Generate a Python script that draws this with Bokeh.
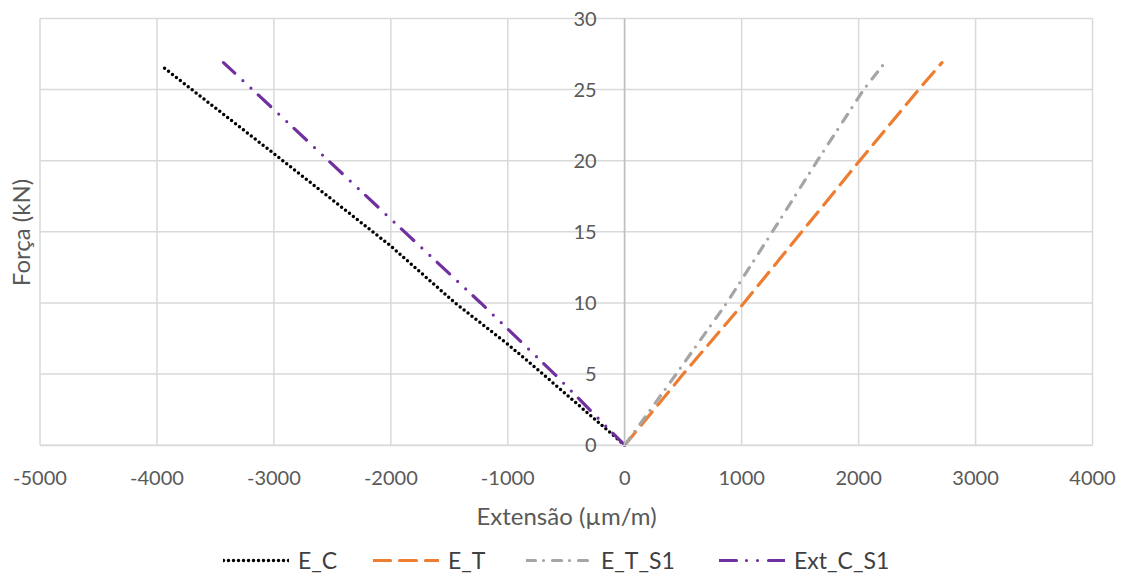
import math
from bokeh.plotting import figure
from bokeh.models import (Range1d, FixedTicker, Legend, LegendItem, LinearAxis,
                          CustomJSTickFormatter, Label)
from bokeh.embed import file_html
from bokeh.resources import INLINE

# Data
ec_x = [0, -700, -1000, -1450, -2000, -3000, -3966]
ec_y = [0, 5, 7.1, 10, 14.0, 20.5, 26.7]

et_x = [0, 500, 1019, 1514, 2009, 2513, 2713]
et_y = [0, 5, 10, 15, 20, 25, 26.9]

ets1_x = [0, 440, 872, 1262, 1647, 2043, 2225]
ets1_y = [0, 5, 10, 15, 20, 25, 26.9]

extc_x = [0, -600, -1231, -2000, -3000, -3431]
extc_y = [0, 5, 10, 15.9, 23.6, 26.9]

series_names = ["E_C", "E_T", "E_T_S1", "Ext_C_S1"]
x_ticks = [-5000, -4000, -3000, -2000, -1000, 0, 1000, 2000, 3000, 4000]
y_ticks = [0, 5, 10, 15, 20, 25, 30]

FONT = "Lato"
TXT = "#595959"
W, H = 1125, 577
# plot area inside the canvas (pixels): left, right, top, bottom
PL, PR, PT, PB = 39.5, 1092.0, 18.0, 444.7
x0, x1 = x_ticks[0], x_ticks[-1]
y0, y1 = y_ticks[0], y_ticks[-1]
sx = (PR - PL) / (x1 - x0)
sy = (PB - PT) / (y1 - y0)

p = figure(width=W, height=H, output_backend="svg", toolbar_location=None,
           x_range=Range1d(x0 - PL / sx, x1 + (W - PR) / sx),
           y_range=Range1d(y0 - (H - PB) / sy, y1 + PT / sy),
           x_axis_location=None, y_axis_location=None,
           min_border=0, outline_line_color=None)
p.grid.visible = False

# grid lines, bounded to the plot area
p.segment(x0=x_ticks, y0=[y0] * len(x_ticks), x1=x_ticks, y1=[y1] * len(x_ticks),
          line_color="#D9D9D9", line_width=1.5)
p.segment(x0=[x0] * len(y_ticks), y0=y_ticks, x1=[x1] * len(y_ticks), y1=y_ticks,
          line_color="#D9D9D9", line_width=1.5)

xaxis = LinearAxis(fixed_location=0, bounds=(x0, x1), ticker=FixedTicker(ticks=x_ticks),
                   formatter=CustomJSTickFormatter(code="return tick.toString();"))
yaxis = LinearAxis(fixed_location=0, bounds=(y0, y1), ticker=FixedTicker(ticks=y_ticks))
for ax in (xaxis, yaxis):
    ax.major_tick_line_color = None
    ax.minor_tick_line_color = None
    ax.major_label_text_font = FONT
    ax.major_label_text_font_size = "20px"
    ax.major_label_text_color = TXT
    ax.axis_line_width = 1.5
xaxis.axis_line_color = "#D9D9D9"
yaxis.axis_line_color = "#BFBFBF"
xaxis.major_label_standoff = 20
yaxis.major_label_standoff = 22
xaxis.axis_label = "Extensão (µm/m)"
xaxis.axis_label_text_font = FONT
xaxis.axis_label_text_font_size = "24px"
xaxis.axis_label_text_font_style = "normal"
xaxis.axis_label_text_color = TXT
xaxis.axis_label_standoff = 12
p.add_layout(xaxis, "below")
p.add_layout(yaxis, "left")

p.add_layout(Label(x=20, y=H - 232, x_units="screen", y_units="screen",
                   text="Força (kN)", angle=math.pi / 2, text_align="center",
                   text_baseline="middle", text_font=FONT, text_font_size="24px",
                   text_color=TXT))

r1 = p.line(ec_x, ec_y, line_color="#000000", line_width=3.5, line_dash="0 5", line_cap="round")
r2 = p.line(et_x, et_y, line_color="#ED7D31", line_width=3.2, line_dash="17 9", line_cap="round")
r3 = p.line(ets1_x, ets1_y, line_color="#A5A5A5", line_width=3.2, line_dash="9 8 0 9", line_cap="round")
r4 = p.line(extc_x, extc_y, line_color="#7030A0", line_width=3.2, line_dash="17 10 0 11 0 11", line_cap="round")

# one legend box per series so each entry sits where the reference puts it
legend_left = [223, 373, 526, 719]
for name, r, lx in zip(series_names, [r1, r2, r3, r4], legend_left):
    lg = Legend(items=[LegendItem(label=name, renderers=[r])],
                location=(lx, 3), orientation="horizontal",
                glyph_width=66, glyph_height=22, label_standoff=9,
                label_text_font=FONT, label_text_font_size="23px", label_text_color="#404040",
                border_line_color=None, background_fill_alpha=0, padding=0, margin=0)
    p.add_layout(lg)

open("out.html", "w").write(file_html(p, INLINE))
